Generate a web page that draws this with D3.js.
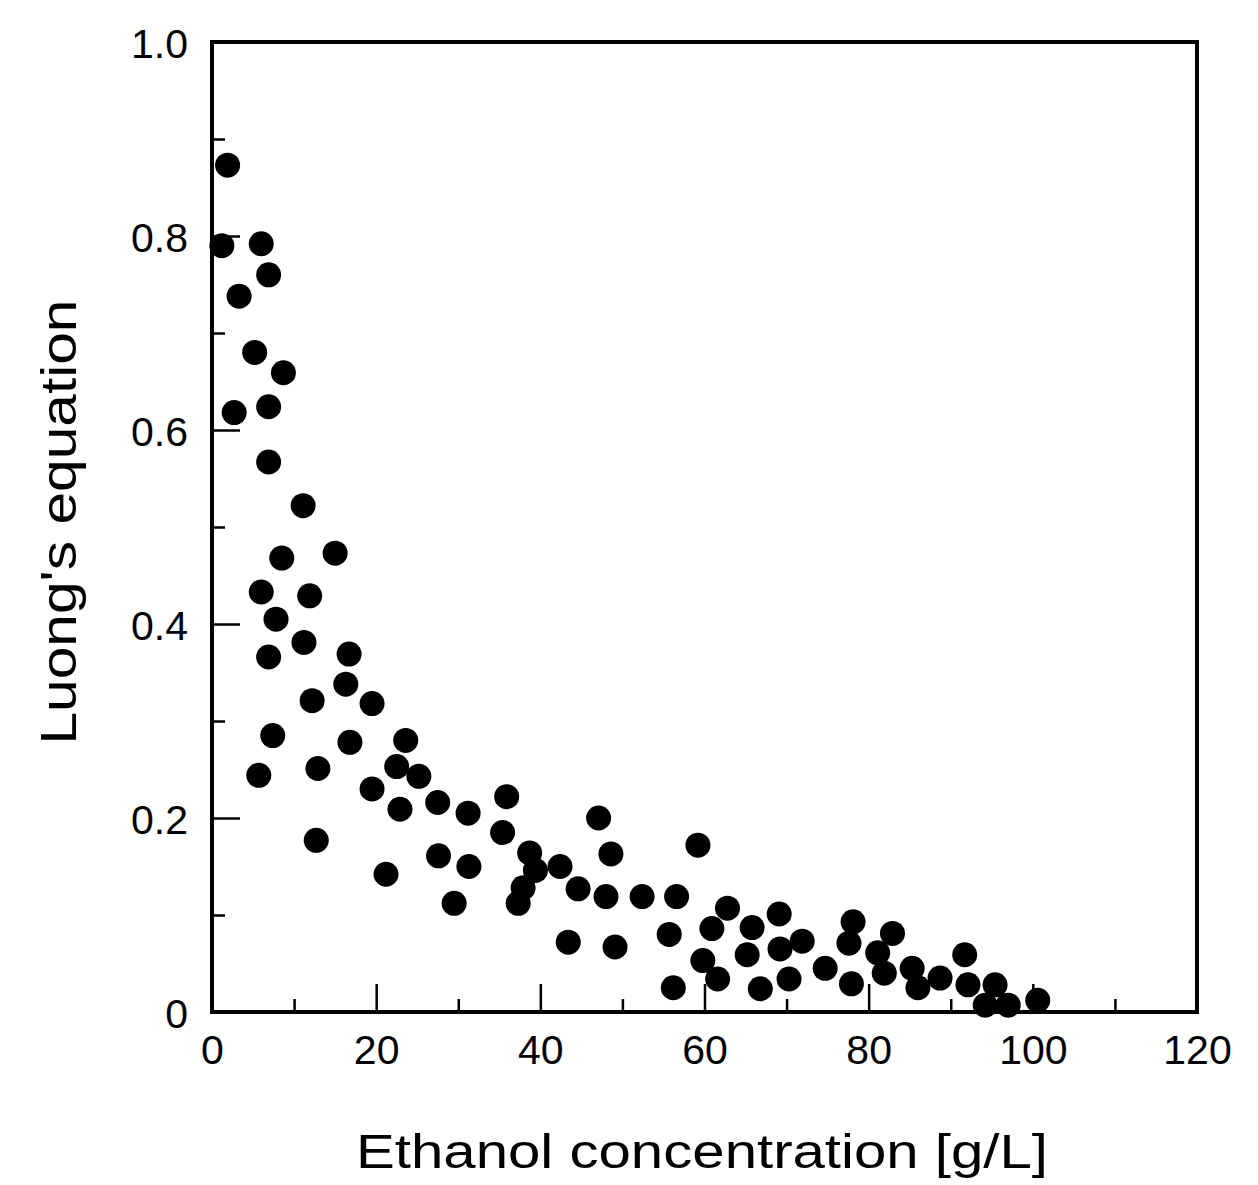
<html>
<head>
<title>Luong's equation vs ethanol</title>
<script type="text/javascript" src="https://d3js.org/d3.v7.min.js"></script>
<style>
  body { margin: 0; background: #fff; }
  text { font-family: "Liberation Sans", Arial, sans-serif; fill: #000; }
</style>
</head>
<body>
<script type="text/javascript">
  var width = 1258;
  var height = 1185;

  // ethanol concentration [g/L]
  var ethanol = [1.9, 1.2, 6.0, 6.9, 3.3, 5.2, 8.7, 2.7, 6.9, 6.9,
                 11.1, 8.5, 15.0, 6.0, 11.9, 7.8, 11.2, 6.9, 16.7, 16.3,
                 12.2, 19.5, 7.4, 16.8, 23.6, 5.7, 12.9, 22.5, 25.2, 19.5,
                 22.9, 27.5, 31.2, 35.9, 12.7, 35.4, 27.6, 31.3, 21.2, 29.5,
                 38.7, 42.4, 39.4, 37.9, 37.3, 44.6, 47.1, 48.6, 48.0, 52.4,
                 56.6, 43.4, 49.1, 55.7, 59.2, 56.2, 62.8, 60.9, 65.8, 69.1,
                 59.8, 61.6, 65.2, 69.2, 71.9, 66.8, 70.3, 74.7, 78.1, 77.6,
                 77.9, 81.1, 81.9, 82.9, 85.3, 86.0, 88.7, 91.7, 92.1, 94.2,
                 95.4, 97.0, 100.6];
  // Luong's equation value
  var luong = [0.873, 0.790, 0.792, 0.760, 0.738, 0.680, 0.659, 0.618, 0.624, 0.567,
               0.522, 0.468, 0.473, 0.433, 0.429, 0.405, 0.381, 0.366, 0.369, 0.338,
               0.321, 0.318, 0.285, 0.278, 0.280, 0.244, 0.251, 0.253, 0.243, 0.230,
               0.209, 0.216, 0.205, 0.222, 0.177, 0.185, 0.161, 0.150, 0.142, 0.112,
               0.164, 0.150, 0.146, 0.128, 0.112, 0.127, 0.200, 0.163, 0.119, 0.119,
               0.119, 0.072, 0.067, 0.080, 0.172, 0.025, 0.107, 0.086, 0.087, 0.101,
               0.053, 0.034, 0.059, 0.065, 0.073, 0.024, 0.034, 0.045, 0.093, 0.071,
               0.029, 0.061, 0.040, 0.081, 0.045, 0.025, 0.035, 0.059, 0.028, 0.007,
               0.028, 0.007, 0.012];

  var xMajor = [0, 20, 40, 60, 80, 100, 120];
  var xMinor = [10, 30, 50, 70, 90, 110];
  var yMajor = [0, 0.2, 0.4, 0.6, 0.8, 1.0];
  var yMinor = [0.1, 0.3, 0.5, 0.7, 0.9];

  var x = d3.scaleLinear().domain([0, 120]).range([212, 1197]);
  var y = d3.scaleLinear().domain([0, 1]).range([1012, 42]);

  var svg = d3.select("body")
              .append("svg")
              .attr("width", width)
              .attr("height", height);

  var yFmt = function(d){ return d === 0 ? "0" : d3.format(".1f")(d); };

  // bottom axis: ticks point inward (up)
  var gxMaj = svg.append("g")
     .attr("transform", "translate(0," + y(0) + ")")
     .call(d3.axisBottom(x).tickValues(xMajor).tickSize(-28).tickPadding(46).tickFormat(d3.format("d")));
  var gxMin = svg.append("g")
     .attr("transform", "translate(0," + y(0) + ")")
     .call(d3.axisBottom(x).tickValues(xMinor).tickSize(-13).tickFormat(""));

  var gyMaj = svg.append("g")
     .attr("transform", "translate(" + x(0) + ",0)")
     .call(d3.axisLeft(y).tickValues(yMajor).tickSize(-28).tickPadding(24).tickFormat(yFmt));
  var gyMin = svg.append("g")
     .attr("transform", "translate(" + x(0) + ",0)")
     .call(d3.axisLeft(y).tickValues(yMinor).tickSize(-13).tickFormat(""));

  [gxMaj, gxMin, gyMaj, gyMin].forEach(function(g){
    g.select(".domain").remove();
    g.selectAll(".tick line").attr("stroke", "#000").attr("stroke-width", 2.5);
    g.selectAll(".tick text").style("font-size", "41px").attr("fill", "#000");
  });
  gxMaj.selectAll(".tick text").attr("dy", "0.15em");
  gyMaj.selectAll(".tick text").attr("dy", "0.38em");

  // frame
  svg.append("rect")
     .attr("x", x(0)).attr("y", y(1))
     .attr("width", x(120) - x(0)).attr("height", y(0) - y(1))
     .attr("fill", "none").attr("stroke", "#000").attr("stroke-width", 4);

  // points
  svg.append("g").selectAll("circle")
     .data(ethanol)
     .enter().append("circle")
     .attr("cx", function(d){ return x(d); })
     .attr("cy", function(d, i){ return y(luong[i]); })
     .attr("r", 12.5)
     .attr("fill", "#000");

  // axis titles
  svg.append("text")
     .attr("x", 702).attr("y", 1168)
     .attr("text-anchor", "middle")
     .attr("textLength", 692).attr("lengthAdjust", "spacingAndGlyphs")
     .style("font-size", "48px")
     .text("Ethanol concentration [g/L]");

  svg.append("text")
     .attr("transform", "translate(76,522) rotate(-90)")
     .attr("text-anchor", "middle")
     .attr("textLength", 445).attr("lengthAdjust", "spacingAndGlyphs")
     .style("font-size", "50px")
     .text("Luong's equation");
</script>
</body>
</html>
